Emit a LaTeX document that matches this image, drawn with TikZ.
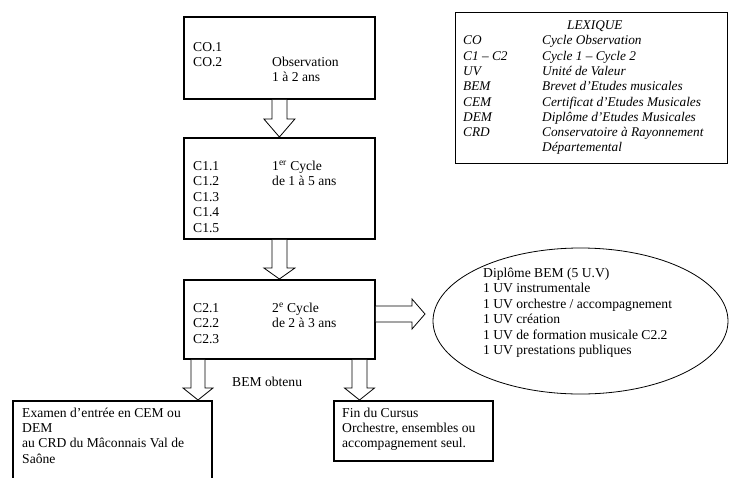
\documentclass[tikz,border=0pt]{standalone}
\usepackage{fontspec}
\setmainfont{Liberation Serif}
\usetikzlibrary{calc,shapes.geometric}
\newcommand\vblk[5]{\draw[barrow] ($(#1)+(-#3,0)$) -- ($(#2)+(-#3,-#5)$) -- ($(#2)+(-#4,-#5)$) -- (#2) -- ($(#2)+(#4,-#5)$) -- ($(#2)+(#3,-#5)$) -- ($(#1)+(#3,0)$);}
\newcommand\hblk[5]{\draw[barrow] ($(#1)+(0,-#3)$) -- ($(#2)+(-#5,-#3)$) -- ($(#2)+(-#5,-#4)$) -- (#2) -- ($(#2)+(-#5,#4)$) -- ($(#2)+(-#5,#3)$) -- ($(#1)+(0,#3)$);}
\begin{document}
\begin{tikzpicture}[x=1pt,y=-1pt,
  box/.style={draw,line width=1.8pt,inner sep=0,anchor=north west},
  lexbox/.style={draw,line width=0.9pt,inner sep=0,anchor=north west},
  barrow/.style={draw,line width=0.8pt,fill=white,line join=miter},
  txt/.style={inner sep=0,anchor=base west,font=\fontsize{13.6pt}{15.4pt}\selectfont},
  lex/.style={txt,font=\fontsize{13.3pt}{15.4pt}\selectfont\itshape}]
\useasboundingbox (0,0) rectangle (730,477);
\fill[white] (0,0) rectangle (730,477);
% boxes
\node[box,minimum width=191,minimum height=82] (b1) at (183,16) {};
\node[box,minimum width=191,minimum height=101] (b2) at (183,137) {};
\node[box,minimum width=191,minimum height=79] (b3) at (183,279) {};
\node[box,minimum width=199,minimum height=100] (ex) at (12,400) {};
\node[box,minimum width=159,minimum height=60] (fin) at (333,400) {};
\node[lexbox,minimum width=272,minimum height=151] (lx) at (455,12) {};
\node[draw,ellipse,line width=0.8pt,minimum width=295,minimum height=146,inner sep=0] (el) at (580.5,321) {};
% box texts
\foreach \t [count=\i] in {CO.1,CO.2} \node[txt] (t1a\i) at (193,{51+15.4*(\i-1)}) {\t};
\foreach \t [count=\i] in {Observation,1 à 2 ans} \node[txt] (t1b\i) at (272,{66.4+15.4*(\i-1)}) {\t};
\foreach \t [count=\i] in {C1.1,C1.2,C1.3,C1.4,C1.5} \node[txt] (t2a\i) at (193,{170.5+15.4*(\i-1)}) {\t};
\foreach \t [count=\i] in {1\textsuperscript{er} Cycle,de 1 à 5 ans} \node[txt] (t2b\i) at (272,{170.5+15.4*(\i-1)}) {\t};
\foreach \t [count=\i] in {C2.1,C2.2,C2.3} \node[txt] (t3a\i) at (193,{312.5+15.4*(\i-1)}) {\t};
\foreach \t [count=\i] in {2\textsuperscript{e} Cycle,de 2 à 3 ans} \node[txt] (t3b\i) at (272,{312.5+15.4*(\i-1)}) {\t};
\foreach \t [count=\i] in {Examen d’entrée en CEM ou,DEM,au CRD du Mâconnais Val de,Saône} \node[txt] (tex\i) at (22,{417.5+15.2*(\i-1)}) {\t};
\foreach \t [count=\i] in {Fin du Cursus,{Orchestre, ensembles ou},accompagnement seul.} \node[txt] (tfin\i) at (342,{417.5+15.2*(\i-1)}) {\t};
\foreach \t [count=\i] in {Diplôme BEM (5 U.V),1 UV instrumentale,1 UV orchestre / accompagnement,1 UV création,1 UV de formation musicale C2.2,1 UV prestations publiques} \node[txt] (tel\i) at (483,{277.5+15.4*(\i-1)}) {\t};
\node[txt] (bem) at (232,386.5) {BEM obtenu};
% lexique
\node[lex] (lxt) at (567,29.5) {LEXIQUE};
\foreach \a/\b [count=\i] in {CO/Cycle Observation,C1 – C2/Cycle 1 – Cycle 2,UV/Unité de Valeur,BEM/Brevet d’Etudes musicales,CEM/Certificat d’Etudes Musicales,DEM/Diplôme d’Etudes Musicales,CRD/Conservatoire à Rayonnement}{
  \node[lex] (lxa\i) at (463,{44.8+15.3*(\i-1)}) {\a};
  \node[lex] (lxb\i) at (542,{44.8+15.3*(\i-1)}) {\b};}
\node[lex] (lxb8) at (542,151.9) {Départemental};
% block arrows
\vblk{b1.south}{b2.north}{7.5}{15.5}{18}
\vblk{b2.south}{b3.north}{7.5}{15.5}{11}
\coordinate (xl) at (198,400);
\coordinate (xr) at (359.5,400);
\coordinate (sl) at (b3.south -| xl);
\coordinate (tl) at (ex.north -| xl);
\coordinate (sr) at (b3.south -| xr);
\coordinate (tr) at (fin.north -| xr);
\vblk{sl}{tl}{7}{15}{12}
\vblk{sr}{tr}{7.5}{15}{12}
\coordinate (rt) at (425,314);
\coordinate (rs) at (b3.east |- rt);
\hblk{rs}{rt}{8}{15}{13}
\end{tikzpicture}
\end{document}
